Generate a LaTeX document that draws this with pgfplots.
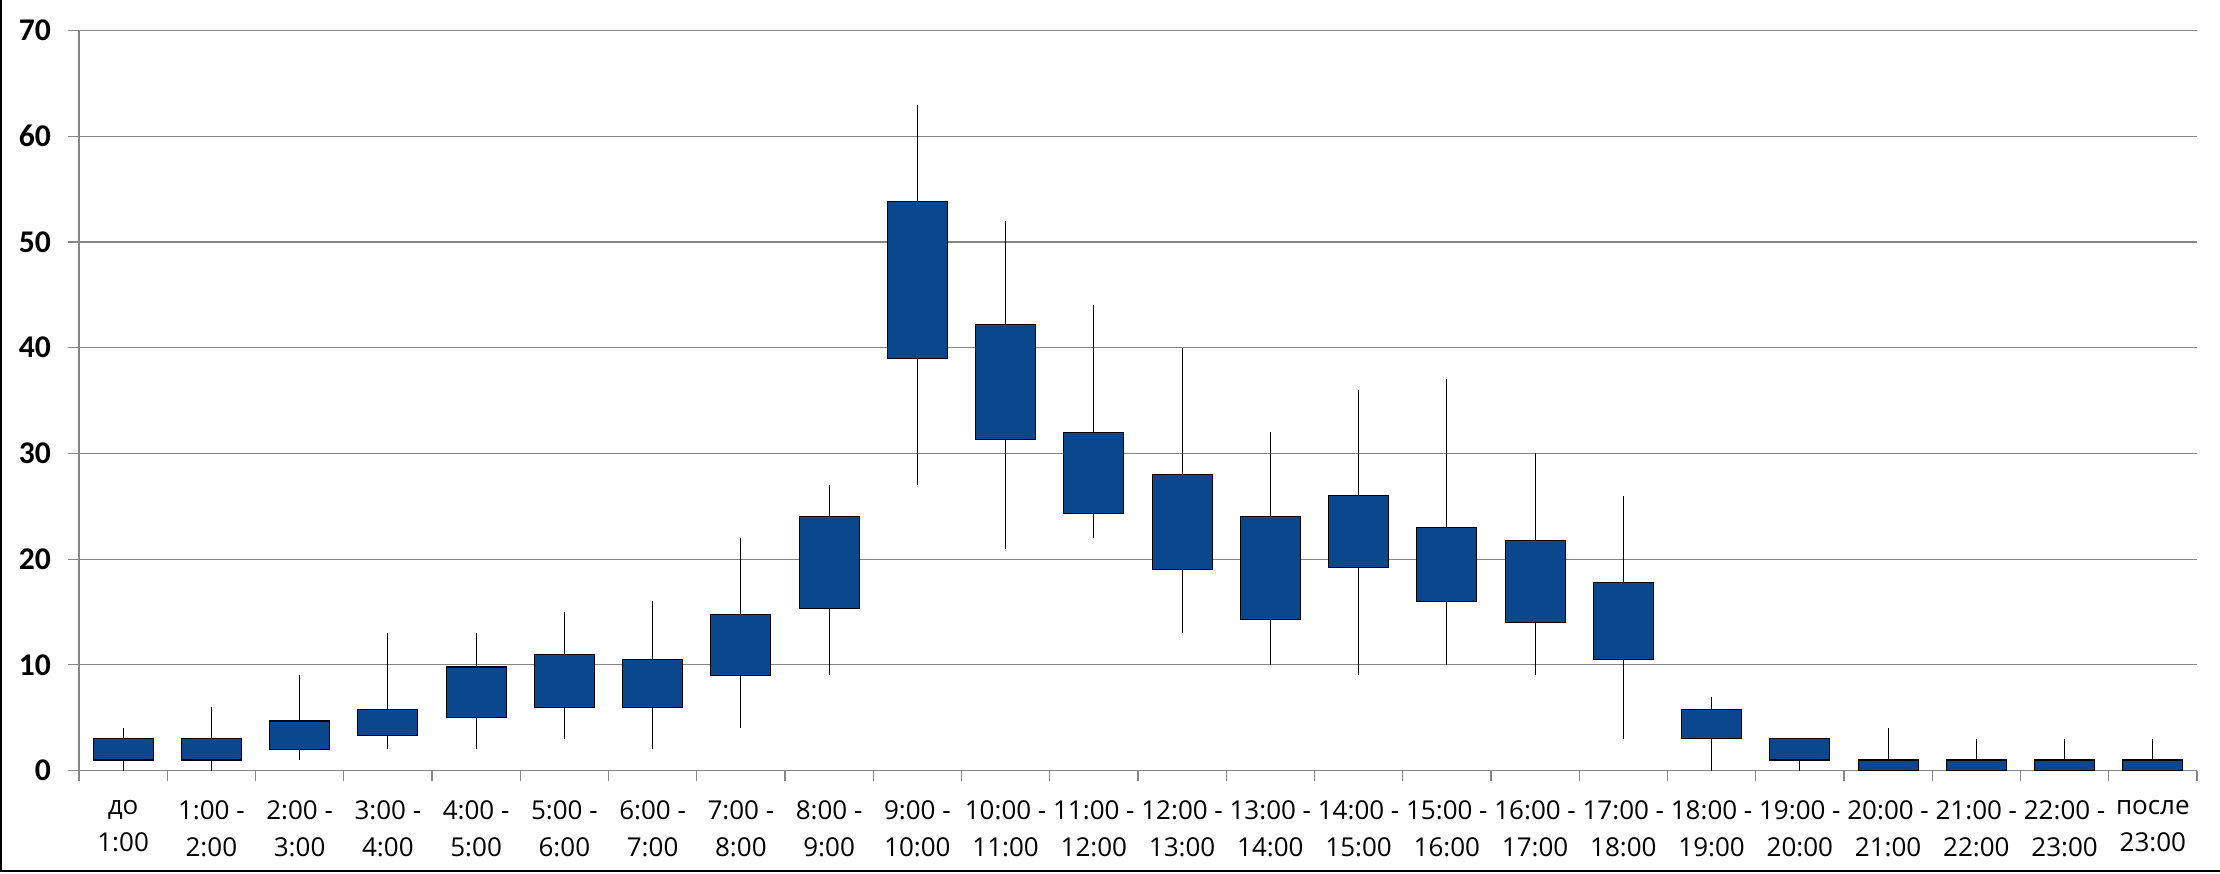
\documentclass[border=0pt]{standalone}
\usepackage{pgfplots}
\pgfplotsset{compat=1.18}
\usepgfplotslibrary{statistics}
\usepackage{fontspec}
\setmainfont{Open Sans}
\newfontfamily\ylabfont{Carlito}
\definecolor{boxblue}{RGB}{10,71,140}
\definecolor{gridgray}{RGB}{134,134,134}
\newcommand{\candle}[5]{\addplot[draw=black, line width=0.6pt, boxplot prepared={draw position=#1, lower whisker=#2, lower quartile=#3, median=#3, upper quartile=#4, upper whisker=#5}] coordinates {};}
\begin{document}
\begin{tikzpicture}
\useasboundingbox (0,0) rectangle (1110pt,436.5pt);
\begin{axis}[
  at={(39.5pt,51.2pt)}, anchor=south west,
  scale only axis, width=1059pt, height=370pt,
  xmin=-0.5, xmax=23.5, ymin=0, ymax=70,
  ytick={0,10,...,70},
  xtick={0,...,23},
  xticklabels={{до\\1:00},{1:00 -\\2:00},{2:00 -\\3:00},{3:00 -\\4:00},{4:00 -\\5:00},{5:00 -\\6:00},{6:00 -\\7:00},{7:00 -\\8:00},{8:00 -\\9:00},{9:00 -\\10:00},{10:00 -\\11:00},{11:00 -\\12:00},{12:00 -\\13:00},{13:00 -\\14:00},{14:00 -\\15:00},{15:00 -\\16:00},{16:00 -\\17:00},{17:00 -\\18:00},{18:00 -\\19:00},{19:00 -\\20:00},{20:00 -\\21:00},{21:00 -\\22:00},{22:00 -\\23:00},{после\\23:00}},
  minor xtick={-0.5,0.5,...,23.5},
  x tick style={draw=none},
  minor x tick style={draw=gridgray, line width=0.6pt},
  minor tick length=5pt,
  y tick style={draw=gridgray, line width=0.6pt},
  major tick length=5.5pt,
  tick align=outside,
  axis x line*=bottom, axis y line*=left,
  axis line style={draw=gridgray, line width=0.6pt, -},
  ymajorgrids, major grid style={draw=gridgray, line width=0.6pt},
  /pgf/number format/assume math mode=true,
  yticklabel style={font=\ylabfont\bfseries\fontsize{15.8}{18}\selectfont, anchor=east, xshift=-5pt},
  xticklabel style={font=\fontsize{13}{18.3}\selectfont, align=center, anchor=north, yshift=-6pt},
  boxplot/draw direction=y,
  boxplot/box extend=0.68,
  boxplot/whisker extend=0,
  boxplot/every box/.style={fill=boxblue, draw=black},
  boxplot/every median/.style={draw=none},
]
\candle{0}{0}{1}{3}{4}
\candle{1}{0}{1}{3}{6}
\candle{2}{1}{2}{4.7}{9}
\candle{3}{2}{3.3}{5.8}{13}
\candle{4}{2}{5}{9.8}{13}
\candle{5}{3}{6}{11}{15}
\candle{6}{2}{6}{10.5}{16}
\candle{7}{4}{9}{14.8}{22}
\candle{8}{9}{15.3}{24}{27}
\candle{9}{27}{39}{53.8}{63}
\candle{10}{21}{31.3}{42.2}{52}
\candle{11}{22}{24.3}{32}{44}
\candle{12}{13}{19}{28}{40}
\candle{13}{10}{14.3}{24}{32}
\candle{14}{9}{19.2}{26}{36}
\candle{15}{10}{16}{23}{37}
\candle{16}{9}{14}{21.8}{30}
\candle{17}{3}{10.5}{17.8}{26}
\candle{18}{0}{3}{5.8}{7}
\candle{19}{0}{1}{3}{3}
\candle{20}{0}{0}{1}{4}
\candle{21}{0}{0}{1}{3}
\candle{22}{0}{0}{1}{3}
\candle{23}{0}{0}{1}{3}
\end{axis}
\draw[line width=1pt] (0.5pt,436.5pt) -- (0.5pt,1pt) -- (1110pt,1pt);
\end{tikzpicture}
\end{document}
